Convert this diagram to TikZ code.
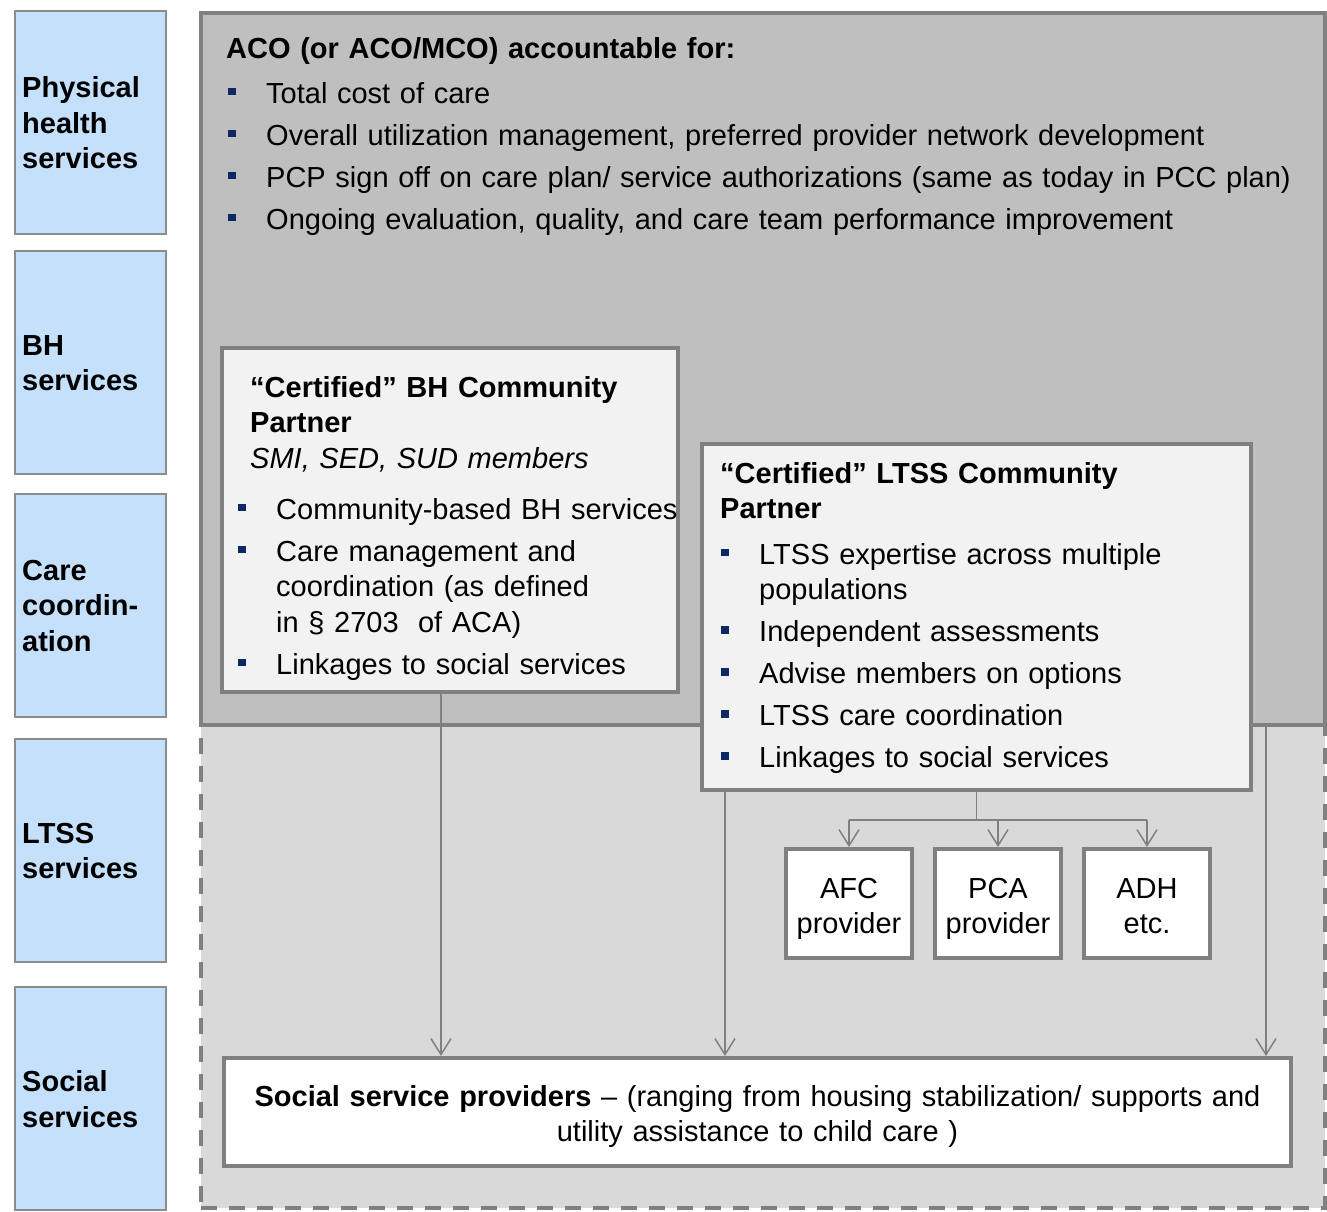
\documentclass[tikz,border=0pt]{standalone}
\usepackage{fontspec}
\setmainfont{Liberation Sans}
\usetikzlibrary{arrows.meta}

\definecolor{sideblue}{RGB}{197,224,250}
\definecolor{sidegray}{RGB}{140,140,140}
\definecolor{edgegray}{RGB}{128,128,128}
\definecolor{acogray}{RGB}{191,191,191}
\definecolor{lowgray}{RGB}{217,217,217}
\definecolor{cpgray}{RGB}{242,242,242}
\definecolor{bulletblue}{RGB}{14,40,99}

\newcommand{\diafont}{\fontsize{29}{35.5}\selectfont}
\newcommand{\listsetup}{\leftskip=38pt\parskip=6.5pt}
\newcommand{\itm}[1]{\noindent\llap{\makebox[38pt][l]{%
  \textcolor{bulletblue}{\rule[8pt]{7.5pt}{7.5pt}}}}#1\par}

\begin{document}
\begin{tikzpicture}[x=1pt,y=-1pt,
    every node/.style={font=\diafont, inner sep=0pt},
    sidebox/.style={draw=sidegray, line width=2pt, fill=sideblue,
      minimum width=151.5pt, minimum height=223pt},
    sidelabel/.style={font=\diafont\bfseries, text width=140pt, align=left, anchor=west},
    lowbox/.style={draw=edgegray, line width=4pt, dash pattern=on 16pt off 12pt,
      fill=lowgray, minimum width=1124pt, minimum height=483pt},
    acobox/.style={draw=edgegray, line width=4pt, fill=acogray,
      minimum width=1123.5pt, minimum height=712pt},
    cpbox/.style={draw=edgegray, line width=4pt, fill=cpgray},
    provbox/.style={draw=edgegray, line width=4pt, fill=white,
      minimum width=126pt, minimum height=109pt},
    boxtext/.style={text width=#1, align=center, anchor=base},
    heading/.style={font=\diafont\bfseries, text width=#1, align=left, anchor=base west},
    bullets/.style={text width=#1, align=left, anchor=base west},
    conn/.style={draw=edgegray, line width=1.5pt, -{Straight Barb[length=16pt,width=20pt]}},
    link/.style={draw=edgegray, line width=1.5pt}]

    \useasboundingbox (0,0) rectangle (1327,1211);

    % service rows on the left
    \foreach \ytop/\lab [count=\i] in {10/{Physical\\health\\services}, 250/{BH\\services},
        493/{Care\\coordin-\\ation}, 738/{LTSS\\services}, 986/{Social\\services}} {
        \node[sidebox] (side\i) at (90.25,\ytop+112.5) {};
        \node[sidelabel] (sidelab\i) at (22,\ytop+113) {\lab};
    }

    % lower dashed area and ACO area
    \node[lowbox] (low) at (763,966.5) {};
    \node[acobox] (aco) at (762.75,369) {};

    \node[heading=1000pt] (acotitle) at (226,58) {ACO (or ACO/MCO) accountable for:};
    \node[bullets=1095pt] (acolist) at (228,103) {\listsetup
        \itm{Total cost of care}
        \itm{Overall utilization management, preferred provider network development}
        \itm{PCP sign off on care plan/ service authorizations (same as today in PCC plan)}
        \itm{Ongoing evaluation, quality, and care team performance improvement}};

    % BH community partner
    \node[cpbox, minimum width=456pt, minimum height=344pt] (bh) at (450,520) {};
    \node[heading=440pt] (bhtitle) at (250,397)
        {“Certified” BH Community\\Partner\\\mdseries\itshape SMI, SED, SUD members};
    \node[bullets=470pt] (bhlist) at (238,519) {\listsetup
        \itm{Community-based BH services}
        \itm{Care management and\\coordination (as defined\\in § 2703\ \ of ACA)}
        \itm{Linkages to social services}};

    % LTSS community partner
    \node[cpbox, minimum width=549pt, minimum height=346pt] (ltss) at (976.5,617) {};
    \node[heading=520pt] (ltsstitle) at (720,483) {“Certified” LTSS Community\\Partner};
    \node[bullets=520pt] (ltsslist) at (721,564) {\listsetup
        \itm{LTSS expertise across multiple\\populations}
        \itm{Independent assessments}
        \itm{Advise members on options}
        \itm{LTSS care coordination}
        \itm{Linkages to social services}};

    % providers under LTSS
    \foreach \p/\x/\txt in {afc/849/{AFC\\provider}, pca/998/{PCA\\provider}, adh/1147/{ADH\\etc.}} {
        \node[provbox] (\p) at (\x,903.5) {};
        \node[boxtext=124pt] (\p text) at (\x,898) {\txt};
    }

    % social service providers
    \node[provbox, minimum width=1067pt, minimum height=108pt] (social) at (757.5,1112) {};
    \node[boxtext=1060pt] (socialtext) at (757.5,1106)
        {\textbf{Social service providers} – (ranging from housing stabilization/ supports and\\utility assistance to child care )};

    % connectors
    \coordinate (fork) at (976.5,820);
    \draw[link] (ltss.south) -- (fork);
    \draw[link] (fork -| afc.north) -- (fork -| adh.north);
    \foreach \p in {afc,pca,adh}
        \draw[conn] (fork -| \p.north) -- (\p.north);

    \coordinate (bhout) at (441,694);
    \coordinate (ltssout) at (725,792);
    \coordinate (acoout) at (1266,727);
    \foreach \c in {bhout,ltssout,acoout}
        \draw[conn] (\c) -- (\c |- social.north);
\end{tikzpicture}
\end{document}
